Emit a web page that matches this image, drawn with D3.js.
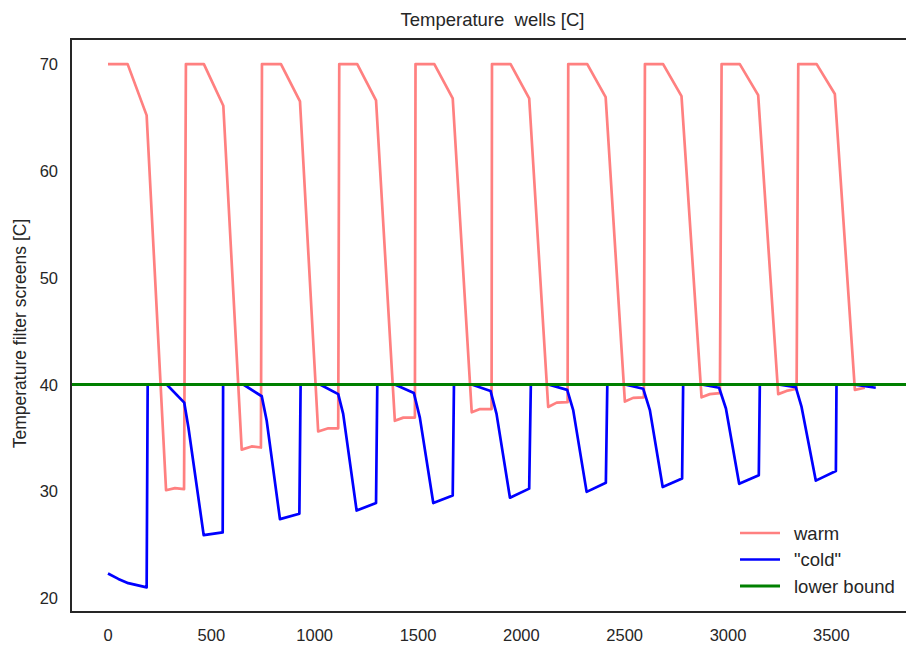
<!DOCTYPE html>
<html lang="en">
<head>
    <meta charset="UTF-8">
    <title>Temperature wells</title>
    <style>
        body {
            margin: 0;
            padding: 0;
            background-color: #ffffff;
            font-family: 'Liberation Sans', Arial, sans-serif;
            overflow: hidden;
        }
        .tick-label {
            font-size: 16.5px;
            fill: #262626;
        }
        .line {
            fill: none;
            stroke-linejoin: round;
        }
    </style>
</head>
<body>
    <div class="chart"></div>

    <script src="https://d3js.org/d3.v7.min.js"></script>
    <script>
        const width = 906;
        const height = 646;

        // warm well, one group of points per season
        const warmTime = [
            0, 95, 187, 281, 324, 368,
            377, 464, 558, 647, 695, 740,
            745, 837, 929, 1017, 1066, 1114,
            1119, 1206, 1297, 1388, 1429, 1485,
            1488, 1579, 1668, 1760, 1800, 1856,
            1858, 1948, 2038, 2130, 2171, 2224,
            2227, 2319, 2408, 2501, 2541, 2593,
            2598, 2686, 2775, 2872, 2912, 2961,
            2969, 3057, 3146, 3243, 3283, 3332,
            3340, 3429, 3517, 3614, 3662
        ];
        const warmTemp = [
            70, 70, 65.2, 30.1, 30.3, 30.2,
            70, 70, 66.1, 33.9, 34.2, 34.1,
            70, 70, 66.5, 35.6, 35.9, 35.9,
            70, 70, 66.6, 36.6, 36.9, 36.9,
            70, 70, 66.8, 37.4, 37.7, 37.7,
            70, 70, 66.8, 37.9, 38.3, 38.35,
            70, 70, 66.9, 38.4, 38.75, 38.8,
            70, 70, 67.0, 38.8, 39.1, 39.2,
            70, 70, 67.1, 39.1, 39.4, 39.6,
            70, 70, 67.2, 39.5, 39.7
        ];

        // "cold" well
        const coldTime = [
            0, 50, 98, 187,
            192, 284, 369, 389, 463, 555,
            557, 655, 744, 768, 832, 926,
            932, 1026, 1114, 1138, 1203, 1297,
            1303, 1388, 1480, 1509, 1574, 1668,
            1674, 1760, 1851, 1880, 1945, 2038,
            2046, 2130, 2222, 2251, 2316, 2409,
            2416, 2501, 2590, 2622, 2684, 2778,
            2783, 2872, 2957, 2990, 3054, 3149,
            3154, 3243, 3328, 3356, 3425, 3522,
            3525, 3606, 3715
        ];
        const coldTemp = [
            22.3, 21.8, 21.4, 21.0,
            40, 40, 38.3, 36.0, 25.9, 26.15,
            40, 40, 38.9, 36.6, 27.4, 27.9,
            40, 40, 39.1, 37.25, 28.2, 28.9,
            40, 40, 39.2, 36.9, 28.9, 29.6,
            40, 40, 39.4, 37.25, 29.4, 30.25,
            40, 40, 39.5, 37.6, 29.95, 30.8,
            40, 40, 39.6, 37.6, 30.4, 31.2,
            40, 40, 39.7, 37.75, 30.7, 31.5,
            40, 40, 39.75, 37.9, 31.0, 31.9,
            40, 40, 39.7
        ];

        const lowerBound = 40;

        const xTicks = [0, 500, 1000, 1500, 2000, 2500, 3000, 3500];
        const yTicks = [20, 30, 40, 50, 60, 70];

        const legendLabels = ['warm', '"cold"', 'lower bound'];
        const colors = ['#ff8080', '#0000ff', '#008000'];

        const plot = { left: 71, right: 914, top: 39, bottom: 612 };

        const x = d3.scaleLinear()
            .domain([-179, 3900])
            .range([plot.left, plot.right]);

        const y = d3.scaleLinear()
            .domain([18.7, 72.35])
            .range([plot.bottom, plot.top]);

        const svg = d3.select('.chart')
            .append('svg')
            .attr('width', width)
            .attr('height', height);

        svg.append('defs').append('clipPath')
            .attr('id', 'clip')
            .append('rect')
            .attr('x', plot.left)
            .attr('y', plot.top)
            .attr('width', plot.right - plot.left)
            .attr('height', plot.bottom - plot.top);

        const line = d3.line()
            .x(d => x(d[0]))
            .y(d => y(d[1]));

        const warm = warmTime.map((t, i) => [t, warmTemp[i]]);
        const cold = coldTime.map((t, i) => [t, coldTemp[i]]);
        const bound = x.domain().map(t => [t, lowerBound]);

        const lines = svg.append('g').attr('clip-path', 'url(#clip)');

        [warm, cold].forEach((data, i) => {
            lines.append('path')
                .datum(data)
                .attr('class', 'line')
                .attr('stroke', colors[i])
                .attr('stroke-width', 2.7)
                .attr('d', line);
        });

        lines.append('path')
            .datum(bound)
            .attr('class', 'line')
            .attr('stroke', colors[2])
            .attr('stroke-width', 3.2)
            .attr('d', line);

        // frame
        svg.append('rect')
            .attr('x', plot.left)
            .attr('y', plot.top)
            .attr('width', plot.right - plot.left)
            .attr('height', plot.bottom - plot.top)
            .attr('fill', 'none')
            .attr('stroke', '#262626')
            .attr('stroke-width', 2);

        // tick labels, no tick marks
        svg.append('g')
            .selectAll('text')
            .data(xTicks)
            .enter().append('text')
            .attr('class', 'tick-label')
            .attr('x', d => x(d))
            .attr('y', 641)
            .attr('text-anchor', 'middle')
            .text(d => d);

        svg.append('g')
            .selectAll('text')
            .data(yTicks)
            .enter().append('text')
            .attr('class', 'tick-label')
            .attr('x', 58)
            .attr('y', d => y(d) + 6)
            .attr('text-anchor', 'end')
            .text(d => d);

        svg.append('text')
            .attr('x', (plot.left + plot.right) / 2)
            .attr('y', 26)
            .attr('text-anchor', 'middle')
            .style('font-size', '18.5px')
            .style('fill', '#262626')
            .style('white-space', 'pre')
            .text('Temperature  wells [C]');

        svg.append('text')
            .attr('transform', `translate(26,${(plot.top + plot.bottom) / 2 + 8}) rotate(-90)`)
            .attr('text-anchor', 'middle')
            .style('font-size', '17.5px')
            .style('fill', '#262626')
            .text('Temperature filter screens [C]');

        // legend
        const legend = svg.append('g')
            .attr('transform', 'translate(740,533)');

        const item = legend.selectAll('g')
            .data(legendLabels)
            .enter().append('g')
            .attr('transform', (d, i) => `translate(0,${i * 26.5})`);

        item.append('line')
            .attr('x1', 0)
            .attr('x2', 40)
            .attr('stroke', (d, i) => colors[i])
            .attr('stroke-width', (d, i) => i === 2 ? 3.2 : 2.7);

        item.append('text')
            .attr('x', 54)
            .attr('y', 6.5)
            .style('font-size', '18.5px')
            .style('fill', '#262626')
            .text(d => d);
    </script>
</body>
</html>
